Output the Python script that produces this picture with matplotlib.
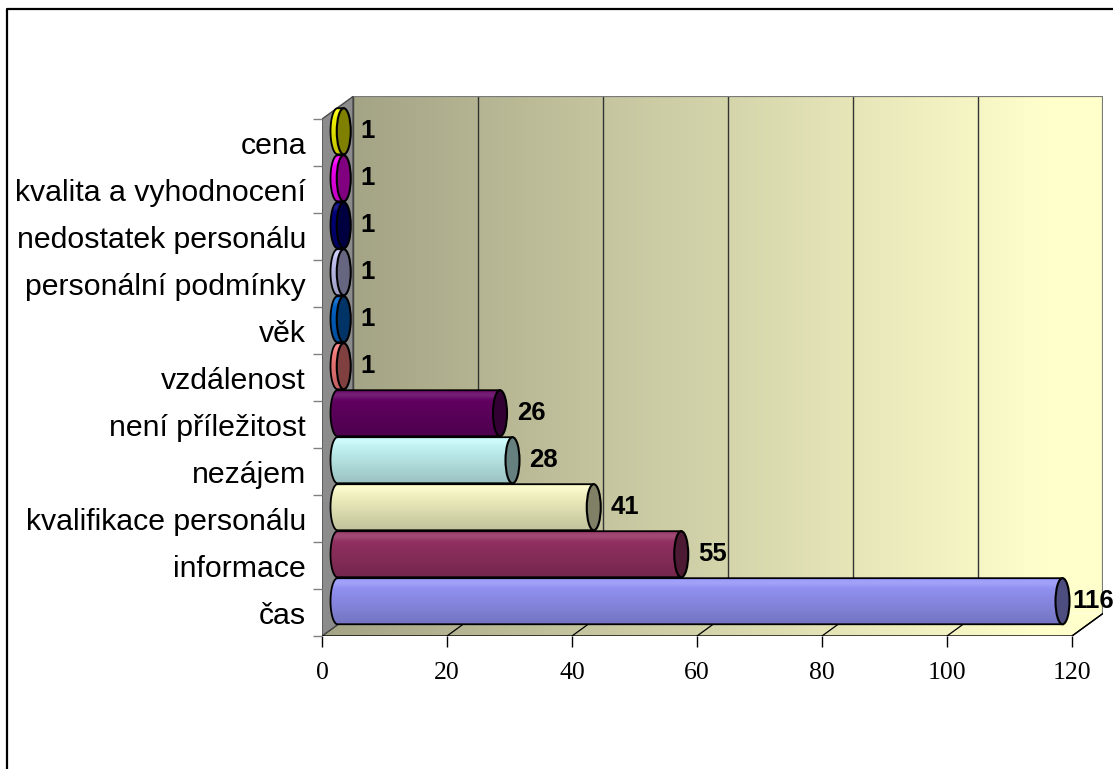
import numpy as np
import matplotlib
matplotlib.use("Agg")
import matplotlib.pyplot as plt
from matplotlib.patches import Polygon, Ellipse, PathPatch
from matplotlib.path import Path
from matplotlib.lines import Line2D
from matplotlib.colors import to_rgb

# data, bottom to top
categories = ["čas", "informace", "kvalifikace personálu", "nezájem",
              "není příležitost", "vzdálenost", "věk", "personální podmínky",
              "nedostatek personálu", "kvalita a vyhodnocení", "cena"]
values = [116, 55, 41, 28, 26, 1, 1, 1, 1, 1, 1]
bar_colors = ["#9999FF", "#993366", "#FFFFCC", "#CCFFFF", "#660066", "#FF8080",
              "#0066CC", "#CCCCFF", "#000080", "#FF00FF", "#FFFF00"]
x_ticks = [0, 20, 40, 60, 80, 100, 120]

XMAX = 120
n = len(categories)
DX = 4.96     # depth of the 3d box, in value units
DY = 0.48     # depth of the 3d box, in category units
RX = 1.12     # horizontal radius of the cylinder end caps
RY = 0.49     # cylinder radius, in category units

fig = plt.figure(figsize=(11.13, 7.69), dpi=100)
ax = fig.add_axes([322 / 1113, 133 / 769, 781 / 1113, 539.5 / 769])
ax.set_autoscale_on(False)
ax.set_xlim(0, XMAX + DX)
ax.set_ylim(-0.5, n - 0.5 + DY)
for s in ax.spines.values():
    s.set_visible(False)

y0, y1 = -0.5, n - 0.5

# back wall with left-to-right gradient
wall_l = np.array(to_rgb("#A4A486"))
wall_r = np.array(to_rgb("#FFFFCC"))
t = np.clip(np.linspace(0, 1, 256) * 1.08, 0, 1)
grad = (wall_l[None, :] * (1 - t[:, None]) + wall_r[None, :] * t[:, None])[None, :, :]
ax.imshow(grad, extent=[DX, XMAX + DX, y0 + DY, y1 + DY], aspect="auto",
          origin="lower", zorder=0, interpolation="bilinear")

# floor
floor = Polygon([(0, y0), (XMAX, y0), (XMAX + DX, y0 + DY), (DX, y0 + DY)],
                closed=True, facecolor="none", edgecolor="none")
ax.add_patch(floor)
fl = ax.imshow(grad, extent=[0, XMAX + DX, y0, y0 + DY], aspect="auto",
               origin="lower", zorder=0.5, interpolation="bilinear")
fl.set_clip_path(floor)
ax.plot([0, XMAX, XMAX + DX], [y0, y0, y0 + DY], color="black", lw=1, zorder=0.8)

# side wall
side = Polygon([(0, y0), (0, y1), (DX, y1 + DY), (DX, y0 + DY)], closed=True,
               facecolor="#8C8C8C", edgecolor="#4a4a4a", lw=1, zorder=0.7)
ax.add_patch(side)

# gridlines on the back wall and floor
for v in x_ticks:
    ax.plot([v + DX, v + DX], [y0 + DY, y1 + DY], color="#333333", lw=1.0, zorder=0.6)
    ax.plot([v, v + DX], [y0, y0 + DY], color="black", lw=0.9, zorder=0.6)
ax.plot([DX, XMAX + DX, XMAX + DX], [y1 + DY, y1 + DY, y0 + DY],
        color="#7a7a7a", lw=1.6, zorder=0.65)

# cylinders
theta = np.linspace(np.pi / 2, 3 * np.pi / 2, 40)
shade = np.linspace(0, 1, 64)
for i in range(n - 1, -1, -1):
    v = values[i]
    col = np.array(to_rgb(bar_colors[i]))
    z = 2 + (n - i) * 0.1
    yc = i + DY / 2
    xl = DX / 2
    xr = v + DX / 2

    verts = [(xr, yc + RY), (xl, yc + RY)]
    verts += [(xl + RX * np.cos(a), yc + RY * np.sin(a)) for a in theta]
    verts += [(xr, yc - RY), (xr, yc + RY)]
    body_path = Path(verts, closed=True)
    outline = PathPatch(body_path, facecolor="none", edgecolor="black", lw=1.3, zorder=z + 0.02)
    ax.add_patch(outline)

    f = 1.0 - 0.24 * shade
    rows = col[None, :] * f[:, None]
    hi = np.exp(-((shade - 0.12) / 0.08) ** 2)[:, None] * 0.12
    rows = np.clip(rows + hi * (1 - rows), 0, 1)
    img = ax.imshow(rows[:, None, :], extent=[xl - RX, xr, yc - RY, yc + RY],
                    aspect="auto", origin="upper", zorder=z, interpolation="bilinear")
    img.set_clip_path(outline)

    cap = Ellipse((xr, yc), 2 * RX, 2 * RY, facecolor=col * 0.5,
                  edgecolor="black", lw=1.5, zorder=z + 0.03)
    ax.add_patch(cap)

    lx = min(xr + RX + 1.6, XMAX)
    ax.text(lx, yc, str(v), ha="left", va="center", fontsize=18.5,
            fontweight="bold", family="Liberation Sans", zorder=10)

# axes ticks
ax.set_xticks(x_ticks)
ax.set_xticklabels([str(v) for v in x_ticks], fontfamily="Liberation Serif", fontsize=18.5)
ax.tick_params(axis="x", length=8, width=1, pad=10.5, color="black")
ax.set_yticks(np.arange(-0.5, n, 1.0))
ax.set_yticklabels([])
ax.tick_params(axis="y", which="major", length=6.5, width=1, color="#808080")
ax.set_yticks(np.arange(n), minor=True)
ax.set_yticklabels(categories, minor=True, fontfamily="Liberation Sans", fontsize=21.8)
ax.tick_params(axis="y", which="minor", length=0, pad=11.5)

# chart border (left and top)
fig.add_artist(Line2D([7 / 1113, 7 / 1113, 1.0], [0, 1 - 9 / 769, 1 - 9 / 769],
                      transform=fig.transFigure, color="black", lw=1.6))

fig.savefig("out.png", dpi=100)
